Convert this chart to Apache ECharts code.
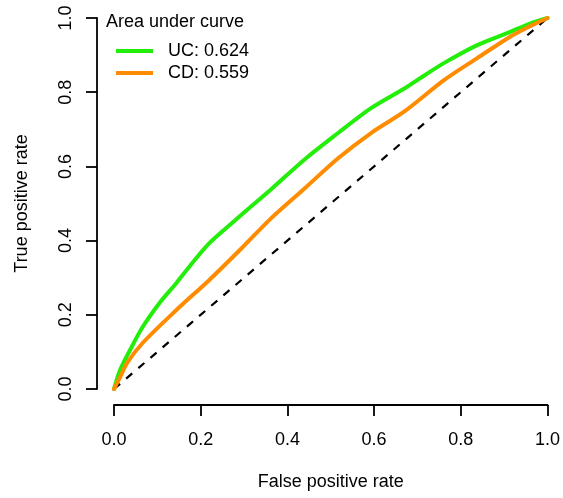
<!DOCTYPE html>
<html>
<head>
<meta charset="utf-8">
<script src="https://cdn.jsdelivr.net/npm/echarts@6/dist/echarts.min.js"></script>
<style>
html,body{margin:0;padding:0;background:#fff;}
#chart{width:563px;height:498px;}
</style>
</head>
<body>
<div id="chart"></div>
<script>
const xTicks = [0, 0.2, 0.4, 0.6, 0.8, 1.0];
const yTicks = [0, 0.2, 0.4, 0.6, 0.8, 1.0];
const legendTitle = 'Area under curve';
const seriesNames = ['UC: 0.624', 'CD: 0.559'];
const ucFpr = [0, 0.014, 0.037, 0.066, 0.105, 0.144, 0.19, 0.22, 0.259, 0.304, 0.364, 0.441, 0.517, 0.593, 0.67, 0.70, 0.762, 0.838, 0.913, 0.96, 1.0];
const ucTpr = [0, 0.051, 0.105, 0.167, 0.232, 0.286, 0.353, 0.393, 0.434, 0.48, 0.54, 0.62, 0.69, 0.757, 0.81, 0.833, 0.879, 0.927, 0.962, 0.985, 1.0];
const cdFpr = [0, 0.014, 0.03, 0.066, 0.144, 0.22, 0.295, 0.364, 0.441, 0.517, 0.593, 0.67, 0.762, 0.838, 0.913, 0.96, 1.0];
const cdTpr = [0, 0.032, 0.07, 0.124, 0.213, 0.294, 0.38, 0.462, 0.542, 0.622, 0.69, 0.748, 0.833, 0.892, 0.949, 0.978, 1.0];
const diagX = [0, 1];
const diagY = [0, 1];

const pair = (xs, ys) => xs.map((x, i) => [x, ys[i]]);
const FONT = '"Liberation Sans", Arial, Helvetica, sans-serif';

const chart = echarts.init(document.getElementById('chart'), null, {renderer: 'canvas'});
chart.setOption({
  animation: false,
  backgroundColor: '#fff',
  textStyle: {fontFamily: FONT},
  grid: {left: 114, right: 12, top: 18, bottom: 109, containLabel: false},
  title: {
    text: legendTitle, left: 101, top: 8,
    textStyle: {fontSize: 18, fontWeight: 'normal', color: '#000', fontFamily: FONT}
  },
  legend: {
    data: seriesNames,
    orient: 'vertical', left: 111, top: 37,
    itemWidth: 37, itemHeight: 4, itemGap: 4,
    icon: 'rect',
    selectedMode: false,
    textStyle: {fontSize: 18, color: '#000', fontFamily: FONT, padding: [0, 0, 0, 10]}
  },
  xAxis: {
    type: 'value', min: 0, max: 1, interval: 0.2, offset: 16,
    name: 'False positive rate', nameLocation: 'middle', nameGap: 68,
    nameTextStyle: {fontSize: 18, color: '#000', fontFamily: FONT},
    axisLine: {show: true, onZero: false, lineStyle: {color: '#000', width: 1.8}},
    axisTick: {show: true, length: 11, lineStyle: {color: '#000', width: 1.8}},
    axisLabel: {fontSize: 18, color: '#000', margin: 26, fontFamily: FONT,
      formatter: v => (xTicks.some(t => Math.abs(t - v) < 1e-9) ? v.toFixed(1) : '')},
    splitLine: {show: false}
  },
  yAxis: {
    type: 'value', min: 0, max: 1, interval: 0.2, offset: 17,
    name: 'True positive rate', nameLocation: 'middle', nameGap: 66,
    nameTextStyle: {fontSize: 18, color: '#000', fontFamily: FONT},
    axisLine: {show: true, onZero: false, lineStyle: {color: '#000', width: 1.8}},
    axisTick: {show: true, length: 11, lineStyle: {color: '#000', width: 1.8}},
    axisLabel: {fontSize: 18, color: '#000', margin: 22, rotate: 90, fontFamily: FONT,
      formatter: v => (yTicks.some(t => Math.abs(t - v) < 1e-9) ? v.toFixed(1) : '')},
    splitLine: {show: false}
  },
  series: [
    {
      name: 'diag', type: 'line', data: pair(diagX, diagY), showSymbol: false, silent: true,
      lineStyle: {color: '#000', width: 2.2, type: [8, 8]}, z: 1
    },
    {
      name: seriesNames[0], type: 'line', data: pair(ucFpr, ucTpr), showSymbol: false,
      smooth: 0.3,
      itemStyle: {color: '#22ee0a'},
      lineStyle: {color: '#22ee0a', width: 4, cap: 'round', join: 'round'}, z: 2
    },
    {
      name: seriesNames[1], type: 'line', data: pair(cdFpr, cdTpr), showSymbol: false,
      smooth: 0.3,
      itemStyle: {color: '#ff8c00'},
      lineStyle: {color: '#ff8c00', width: 4, cap: 'round', join: 'round'}, z: 3
    }
  ]
});
</script>
</body>
</html>
